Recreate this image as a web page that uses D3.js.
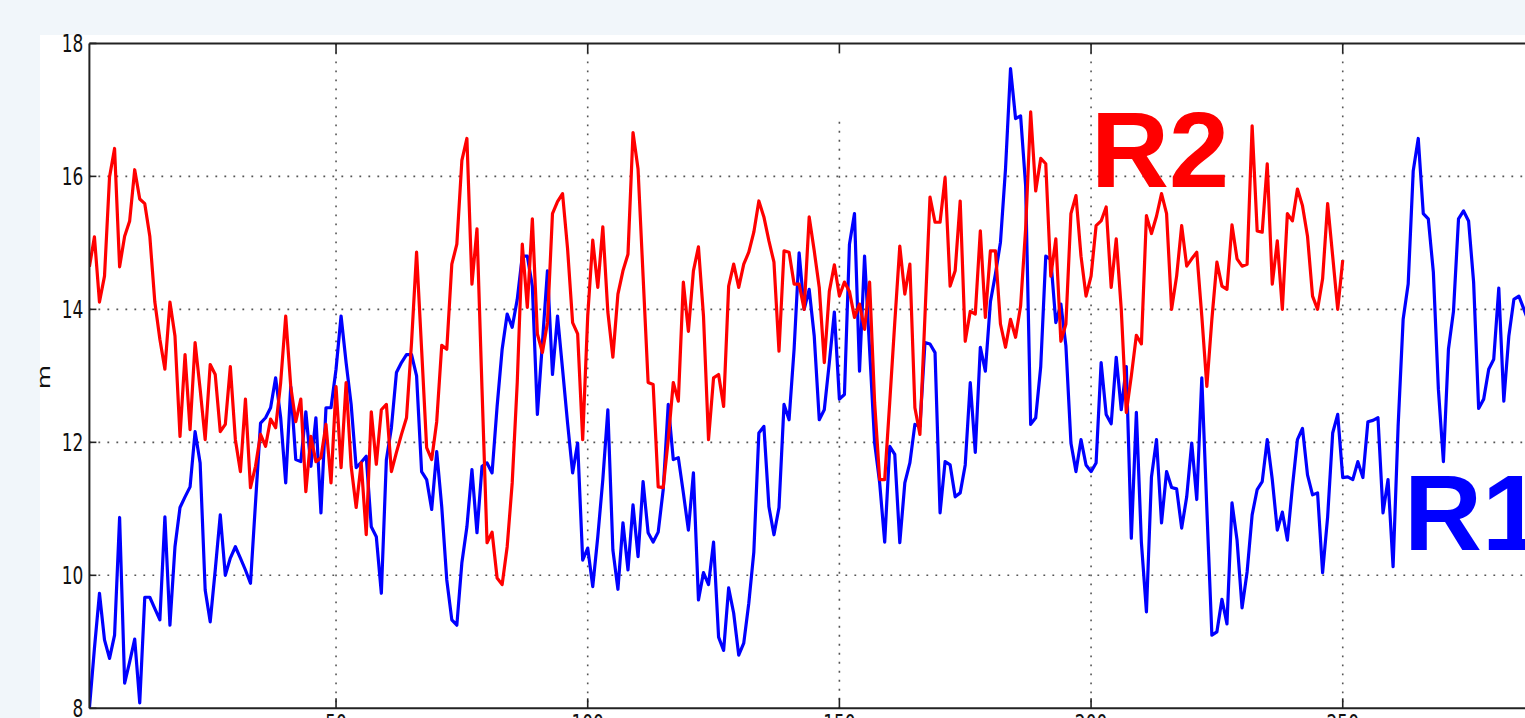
<!DOCTYPE html>
<html>
<head>
<meta charset="utf-8">
<script src="https://cdn.jsdelivr.net/npm/d3@7"></script>
<style>
  html, body { margin: 0; padding: 0; background: #f1f6fa; }
  svg { display: block; }
</style>
</head>
<body>
<svg id="chart" width="1525" height="718"></svg>
<script>
// R2 water level (m), one value per sample index starting at 1
const r2Values = [
  14.64, 15.09, 14.11, 14.5, 15.99, 16.42, 14.64, 15.1, 15.33, 16.1,
  15.66, 15.59, 15.1, 14.11, 13.55, 13.1, 14.11, 13.6, 12.09, 13.32,
  12.19, 13.5, 12.8, 12.04, 13.17, 13.02, 12.16, 12.27, 13.14, 12.04,
  11.56, 12.65, 11.32, 11.64, 12.12, 11.94, 12.35, 12.22, 12.9, 13.9,
  12.84, 12.31, 12.65, 11.26, 12.09, 11.71, 11.77, 12.27, 11.39, 12.84,
  11.62, 12.9, 11.64, 11.02, 11.69, 10.61, 12.46, 11.67, 12.49, 12.57,
  11.56, 11.85, 12.12, 12.37, 13.5, 14.86, 13.4, 11.92, 11.74, 12.31,
  13.46, 13.4, 14.68, 14.98, 16.24, 16.57, 14.38, 15.21, 12.8, 10.49,
  10.65, 9.96, 9.86, 10.43, 11.39, 12.9, 14.98, 14.03, 15.36, 13.63,
  13.35, 13.8, 15.44, 15.62, 15.74, 14.91, 13.8, 13.63, 12.04, 13.9,
  15.04, 14.33, 15.24, 13.96, 13.28, 14.23, 14.58, 14.83, 16.66, 16.11,
  14.5, 12.9, 12.87, 11.33, 11.32, 12.04, 12.9, 12.62, 14.41, 13.67,
  14.58, 14.94, 13.9, 12.04, 12.97, 13.02, 12.54, 14.35, 14.68, 14.33,
  14.68, 14.86, 15.16, 15.63, 15.39, 15.03, 14.71, 13.37, 14.88, 14.86,
  14.38, 14.38, 14.0, 15.39, 14.88, 14.33, 13.2, 14.27, 14.67, 14.2,
  14.41, 14.27, 13.88, 14.08, 13.7, 14.41, 12.6, 11.44, 11.44, 12.6,
  13.8, 14.95, 14.23, 14.68, 12.52, 12.12, 13.9, 15.69, 15.31, 15.31,
  15.98, 14.35, 14.58, 15.63, 13.52, 13.97, 13.93, 15.18, 13.88, 14.88,
  14.88, 13.78, 13.43, 13.85, 13.58, 14.05, 15.21, 16.97, 15.78, 16.27,
  16.19, 14.5, 15.06, 13.52, 13.78, 15.44, 15.71, 14.8, 14.2, 14.5,
  15.26, 15.33, 15.54, 14.33, 15.06, 14.0, 12.45, 13.0, 13.61, 13.48,
  15.41, 15.14, 15.4, 15.74, 15.44, 14.0, 14.5, 15.26, 14.65, 14.76,
  14.86, 13.9, 12.84, 13.85, 14.71, 14.35, 14.3, 15.27, 14.76, 14.65,
  14.68, 16.76, 15.18, 15.16, 16.19, 14.38, 15.03, 14.0, 15.44, 15.33,
  15.81, 15.56, 15.1, 14.2, 14.0, 14.46, 15.59, 14.8, 14.0, 14.74
];

// R1 water level (m), same sample indexing
const r1Values = [
  8.0, 8.9, 9.73, 9.03, 8.75, 9.1, 10.87, 8.38, 8.7, 9.04,
  8.08, 9.67, 9.67, 9.5, 9.33, 10.88, 9.25, 10.43, 11.02, 11.18,
  11.33, 12.16, 11.69, 9.78, 9.3, 10.08, 10.91, 10.0, 10.26, 10.43,
  10.26, 10.08, 9.88, 11.09, 12.29, 12.37, 12.52, 12.97, 12.37, 11.39,
  12.84, 11.74, 11.71, 12.46, 11.64, 12.37, 10.94, 12.52, 12.52, 13.1,
  13.9, 13.2, 12.57, 11.62, 11.7, 11.79, 10.73, 10.58, 9.73, 11.74,
  12.22, 13.05, 13.2, 13.32, 13.32, 13.0, 11.56, 11.44, 10.99, 11.86,
  11.03, 9.93, 9.33, 9.25, 10.19, 10.73, 11.59, 10.64, 11.64, 11.69,
  11.54, 12.54, 13.4, 13.93, 13.73, 14.15, 14.8, 14.8, 14.35, 12.42,
  13.5, 14.58, 13.02, 13.9, 13.1, 12.29, 11.54, 11.99, 10.23, 10.41,
  9.83, 10.58, 11.44, 12.49, 10.38, 9.79, 10.79, 10.08, 11.06, 10.28,
  11.41, 10.64, 10.5, 10.65, 11.29, 12.57, 11.74, 11.77, 11.24, 10.68,
  11.54, 9.63, 10.04, 9.86, 10.5, 9.07, 8.87, 9.81, 9.43, 8.8,
  8.98, 9.58, 10.35, 12.14, 12.24, 11.03, 10.61, 11.02, 12.57, 12.34,
  13.4, 14.85, 14.0, 14.3, 13.6, 12.34, 12.49, 13.2, 13.96, 12.65,
  12.72, 14.98, 15.44, 13.07, 14.8, 13.4, 11.99, 11.39, 10.5, 11.94,
  11.82, 10.49, 11.39, 11.69, 12.27, 12.24, 13.5, 13.48, 13.35, 10.94,
  11.71, 11.66, 11.18, 11.24, 11.66, 12.9, 11.85, 13.43, 13.07, 14.11,
  14.53, 15.01, 16.11, 17.62, 16.87, 16.91, 15.86, 12.27, 12.37, 13.14,
  14.8, 14.75, 13.8, 14.08, 13.45, 11.99, 11.56, 12.04, 11.66, 11.56,
  11.69, 13.2, 12.42, 12.28, 13.28, 12.49, 13.14, 10.56, 12.45, 10.49,
  9.45, 11.48, 12.04, 10.79, 11.56, 11.32, 11.3, 10.71, 11.18, 11.99,
  11.14, 12.97, 11.0, 9.1, 9.15, 9.64, 9.27, 11.09, 10.53, 9.51,
  10.05, 10.91, 11.29, 11.41, 12.04, 11.44, 10.68, 10.95, 10.53, 11.33,
  12.04, 12.21, 11.51, 11.21, 11.24, 10.04, 10.88, 12.14, 12.42, 11.47,
  11.48, 11.44, 11.71, 11.47, 12.31, 12.33, 12.37, 10.94, 11.44, 10.13,
  12.24, 13.85, 14.38, 16.08, 16.57, 15.44, 15.36, 14.56, 12.8, 11.71,
  13.4, 13.97, 15.36, 15.48, 15.33, 14.41, 12.51, 12.65, 13.1, 13.25,
  14.32, 12.62, 13.6, 14.15, 14.2, 14.0, 13.8
];

const yTicks = [8, 10, 12, 14, 16, 18];
const xTicks = [50, 100, 150, 200, 250];
const yLabel = "m";
const seriesLabels = [
  { name: "R1", color: "#0000ff" },
  { name: "R2", color: "#ff0000" }
];
// upper end (in m) of each vertical grid line; the 150 line stops short of the frame
const vGridTop = { 50: 18, 100: 18, 150: 16.82, 200: 18, 250: 18 };

const W = 1525, H = 718;
const plotLeft = 89.4, plotTop = 43.4, plotBottom = 708.3;
const pxPerSample = 5.0335;
const stretchY = 1.47;   // vertical stretch of the rendered figure

const svg = d3.select("#chart");

// white figure panel
svg.append("rect")
  .attr("x", 40).attr("y", 35)
  .attr("width", W - 40).attr("height", H - 35)
  .attr("fill", "#ffffff");

const x = d3.scaleLinear()
  .domain([1, 1 + (W - plotLeft) / pxPerSample])
  .range([plotLeft, W]);
const y = d3.scaleLinear().domain([8, 18]).range([plotBottom, plotTop]);

svg.append("defs").append("clipPath").attr("id", "plot-clip")
  .append("rect")
  .attr("x", plotLeft).attr("y", plotTop)
  .attr("width", W - plotLeft).attr("height", plotBottom - plotTop);

// dotted grid
const grid = svg.append("g").attr("class", "grid");
grid.selectAll("line.h").data(yTicks.filter(d => d > 8 && d < 18)).join("line")
  .attr("class", "h")
  .attr("x1", plotLeft).attr("x2", W)
  .attr("y1", d => y(d)).attr("y2", d => y(d))
  .attr("stroke", "#555").attr("stroke-width", 1.6)
  .attr("stroke-dasharray", "1.8,7.2");
grid.selectAll("line.v").data(xTicks).join("line")
  .attr("class", "v")
  .attr("x1", d => x(d)).attr("x2", d => x(d))
  .attr("y1", d => y(vGridTop[d])).attr("y2", plotBottom)
  .attr("stroke", "#555").attr("stroke-width", 1.6)
  .attr("stroke-dasharray", "1.8,7.2");

// series lines
const line = d3.line()
  .x((d, i) => x(i + 1))
  .y(d => y(d));

const plot = svg.append("g").attr("clip-path", "url(#plot-clip)");
plot.append("path")
  .datum(r1Values)
  .attr("d", line)
  .attr("fill", "none")
  .attr("stroke", seriesLabels[0].color)
  .attr("stroke-width", 3.2)
  .attr("stroke-linejoin", "round");
plot.append("path")
  .datum(r2Values)
  .attr("d", line)
  .attr("fill", "none")
  .attr("stroke", seriesLabels[1].color)
  .attr("stroke-width", 3.2)
  .attr("stroke-linejoin", "round");

// axes frame
const frame = svg.append("g").attr("stroke", "#222").attr("stroke-width", 2);
frame.append("line").attr("x1", plotLeft).attr("x2", W).attr("y1", plotTop).attr("y2", plotTop);
frame.append("line").attr("x1", plotLeft).attr("x2", W).attr("y1", plotBottom).attr("y2", plotBottom);
frame.append("line").attr("x1", plotLeft).attr("x2", plotLeft).attr("y1", plotTop).attr("y2", plotBottom);

// inward tick marks
const ticks = svg.append("g").attr("stroke", "#222").attr("stroke-width", 1.6);
ticks.selectAll("line.yt").data(yTicks).join("line")
  .attr("class", "yt")
  .attr("x1", plotLeft).attr("x2", plotLeft + 7)
  .attr("y1", d => y(d)).attr("y2", d => y(d));
ticks.selectAll("line.xt-top").data(xTicks).join("line")
  .attr("class", "xt-top")
  .attr("x1", d => x(d)).attr("x2", d => x(d))
  .attr("y1", plotTop).attr("y2", plotTop + 10);
ticks.selectAll("line.xt-bot").data(xTicks).join("line")
  .attr("class", "xt-bot")
  .attr("x1", d => x(d)).attr("x2", d => x(d))
  .attr("y1", plotBottom).attr("y2", plotBottom - 10);

// tick labels
const labelFont = "'DejaVu Sans', 'Bitstream Vera Sans', sans-serif";
svg.append("g").selectAll("text").data(yTicks).join("text")
  .attr("transform", d => `translate(${plotLeft - 6},${y(d)}) scale(1,${stretchY})`)
  .attr("text-anchor", "end")
  .attr("dy", "0.36em")
  .attr("font-family", labelFont)
  .attr("font-size", 17)
  .attr("fill", "#111")
  .text(d => d);
svg.append("g").selectAll("text").data(xTicks).join("text")
  .attr("transform", d => `translate(${x(d)},${plotBottom + 5}) scale(1,${stretchY})`)
  .attr("text-anchor", "middle")
  .attr("dy", "0.73em")
  .attr("font-family", labelFont)
  .attr("font-size", 17)
  .attr("fill", "#111")
  .text(d => d);

// y axis title
svg.append("text")
  .attr("transform", `translate(50,377) scale(1,${stretchY}) rotate(-90)`)
  .attr("text-anchor", "middle")
  .attr("font-family", labelFont)
  .attr("font-size", 17)
  .attr("fill", "#111")
  .text(yLabel);

// series name annotations
const annoFont = "'Liberation Sans', Arial, sans-serif";
svg.append("text")
  .attr("x", 1091).attr("y", 187)
  .attr("font-family", annoFont).attr("font-weight", "bold")
  .attr("font-size", 108)
  .attr("fill", seriesLabels[1].color)
  .text(seriesLabels[1].name);
svg.append("text")
  .attr("x", 1404).attr("y", 550)
  .attr("font-family", annoFont).attr("font-weight", "bold")
  .attr("font-size", 108)
  .attr("fill", seriesLabels[0].color)
  .text(seriesLabels[0].name);
</script>
</body>
</html>
